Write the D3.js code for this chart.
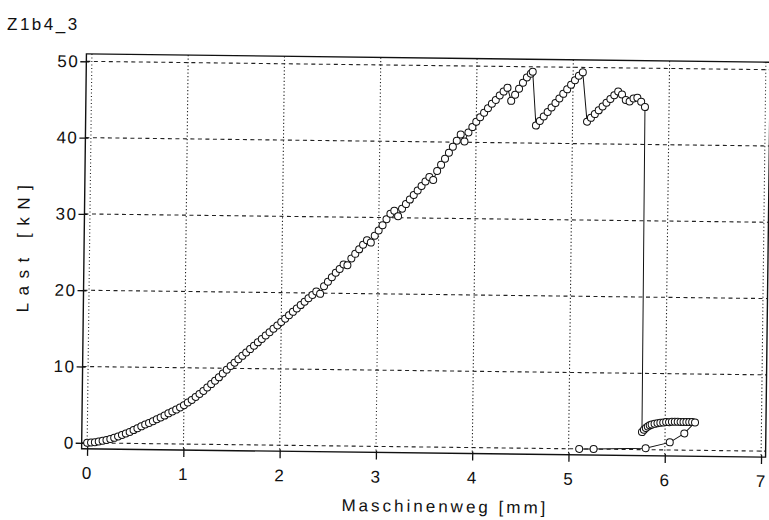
<!DOCTYPE html>
<html>
<head>
<meta charset="utf-8">
<script src="https://cdn.jsdelivr.net/npm/d3@7"></script>
<style>
  body { margin: 0; background: #fff; }
  text { font-family: "Liberation Sans", Arial, sans-serif; fill: #111; }
</style>
</head>
<body>
<div id="chart"></div>
<script>
// Maschinenweg [mm] / Last [kN]
var wegMm = [
  0.00, 0.04, 0.08, 0.12, 0.16, 0.20, 0.24, 0.28, 0.32, 0.36, 0.40, 0.44, 0.48, 0.52, 0.56, 0.60,
  0.64, 0.68, 0.72, 0.76, 0.80, 0.84, 0.88, 0.92, 0.96, 1.00, 1.04, 1.08, 1.12, 1.16, 1.20, 1.24,
  1.28, 1.32, 1.36, 1.40, 1.44, 1.48, 1.52, 1.56, 1.60, 1.64, 1.68, 1.72, 1.76, 1.80, 1.84, 1.88,
  1.92, 1.96, 2.00, 2.04, 2.08, 2.12, 2.16, 2.20, 2.24, 2.28, 2.32,
  2.36, 2.40, 2.44, 2.48, 2.52, 2.56, 2.60, 2.64, 2.68, 2.72, 2.76, 2.80, 2.84, 2.88, 2.92, 2.96,
  3.00, 3.04, 3.08, 3.12, 3.16, 3.20, 3.24, 3.28, 3.32, 3.36, 3.40, 3.44, 3.48, 3.52, 3.56, 3.60,
  3.64, 3.68, 3.72, 3.76, 3.80, 3.84, 3.88, 3.92, 3.96, 4.00, 4.04, 4.08, 4.12, 4.16, 4.20, 4.24,
  4.28, 4.32, 4.36, 4.40, 4.44, 4.48, 4.52, 4.56, 4.58, 4.62,
  4.66, 4.70, 4.74, 4.78, 4.82, 4.86, 4.90, 4.94, 4.98, 5.02, 5.06, 5.10, 5.15,
  5.19, 5.23, 5.27, 5.31, 5.35, 5.39, 5.43, 5.47, 5.51, 5.55, 5.59, 5.63, 5.67, 5.71, 5.75,
  5.76, 5.78, 5.80, 5.82, 5.84, 5.86, 5.89, 5.92, 5.95, 5.98, 6.01, 6.04, 6.07, 6.10, 6.13, 6.16,
  6.19, 6.22, 6.25, 6.28, 6.31,
  6.20, 6.05, 5.80, 5.26, 5.11
];
var lastKn = [
  0.00, 0.05, 0.10, 0.20, 0.30, 0.40, 0.55, 0.70, 0.90, 1.10, 1.30, 1.50, 1.75, 2.00, 2.25, 2.50,
  2.70, 2.95, 3.20, 3.45, 3.70, 4.00, 4.25, 4.50, 4.80, 5.10, 5.45, 5.80, 6.20, 6.60, 7.00, 7.45,
  7.90, 8.35, 8.80, 9.30, 9.80, 10.3, 10.75, 11.2, 11.65, 12.1, 12.55, 13.0, 13.45, 13.9, 14.35, 14.8,
  15.25, 15.7, 16.15, 16.6, 17.05, 17.5, 17.95, 18.4, 18.85, 19.3, 19.75,
  20.2, 19.9, 20.9, 21.5, 22.1, 22.7, 23.2, 23.8, 23.7, 24.6, 25.2, 25.8, 26.4, 27.0, 26.7, 27.6,
  28.3, 29.0, 29.8, 30.5, 30.9, 30.2, 31.2, 31.8, 32.4, 33.0, 33.6, 34.2, 34.8, 35.4, 35.0, 36.2,
  37.0, 37.8, 38.6, 39.4, 40.2, 41.0, 40.1, 41.3, 42.0, 42.7, 43.3, 43.9, 44.5, 45.1, 45.6, 46.2,
  46.7, 47.2, 45.5, 46.3, 47.1, 47.9, 48.6, 49.1, 49.35, 42.3,
  42.9, 43.5, 44.1, 44.7, 45.3, 45.9, 46.5, 47.1, 47.7, 48.3, 48.9, 49.35, 42.9,
  43.4, 43.9, 44.4, 44.9, 45.4, 45.9, 46.4, 46.9, 46.5, 45.8, 45.6, 46.0, 46.1, 45.6, 44.9,
  2.30, 2.60, 2.85, 3.05, 3.20, 3.30, 3.40, 3.50, 3.55, 3.60, 3.65, 3.65, 3.70, 3.70, 3.70, 3.70,
  3.70, 3.70, 3.70, 3.70, 3.65,
  2.20, 1.00, 0.20, 0.00, 0.00
];
var xTicks = [0, 1, 2, 3, 4, 5, 6, 7];
var yTicks = [0, 10, 20, 30, 40, 50];
var chartTitle = "Z1b4_3";
var xTitle = "Maschinenweg [mm]";
var yTitle = "Last [kN]";

var width = 769;
var height = 520;
var frame = { left: 84, right: 768, top: 58, bottom: 453 };

var data = wegMm.map(function (w, i) { return { weg: w, last: lastKn[i] }; });

/* Scale */
var xScale = d3.scaleLinear().domain([0, 7]).range([89.5, 763.5]);
var yScale = d3.scaleLinear().domain([0, 50]).range([447, 65.5]);

var svg = d3.select("#chart").append("svg")
    .attr("width", width)
    .attr("height", height);

svg.append("text")
    .attr("x", 7)
    .attr("y", 30)
    .style("font-size", "17px")
    .style("letter-spacing", "2.5px")
    .text(chartTitle);

// the scanned plot sits slightly skewed
var g = svg.append("g")
    .attr("transform", "rotate(0.7, 426, 255)");

/* Grid */
g.append("g").selectAll("line")
    .data(yTicks).enter()
    .append("line")
    .attr("x1", frame.left)
    .attr("x2", frame.right)
    .attr("y1", d => yScale(d))
    .attr("y2", d => yScale(d))
    .attr("stroke", "#222")
    .attr("stroke-width", 1.1)
    .attr("stroke-dasharray", "4,3.5");

g.append("g").selectAll("line")
    .data(xTicks).enter()
    .append("line")
    .attr("x1", d => xScale(d))
    .attr("x2", d => xScale(d))
    .attr("y1", frame.top)
    .attr("y2", frame.bottom)
    .attr("stroke", "#222")
    .attr("stroke-width", 1.1)
    .attr("stroke-dasharray", "1.2,2.3");

/* Frame */
g.append("rect")
    .attr("x", frame.left)
    .attr("y", frame.top)
    .attr("width", frame.right - frame.left)
    .attr("height", frame.bottom - frame.top)
    .attr("fill", "none")
    .attr("stroke", "#111")
    .attr("stroke-width", 1.4);

/* Axes */
var xAxis = d3.axisBottom(xScale).tickValues(xTicks).tickSize(7).tickPadding(11).tickFormat(d3.format("d"));
var yAxis = d3.axisLeft(yScale).tickValues(yTicks).tickSize(6).tickPadding(1).tickFormat(d3.format("d"));

var gx = g.append("g")
    .attr("transform", `translate(0, ${frame.bottom})`)
    .call(xAxis);
var gy = g.append("g")
    .attr("transform", `translate(${frame.left}, 0)`)
    .call(yAxis);

[gx, gy].forEach(function (ax) {
    ax.select(".domain").remove();
    ax.selectAll("line").attr("stroke", "#111").attr("stroke-width", 1.3);
    ax.selectAll("text")
        .style("font-size", "17px")
        .style("letter-spacing", "1.5px")
        .attr("fill", "#111");
});
gx.selectAll("line").attr("y1", -2);
gy.selectAll("line").attr("x1", 3);

g.append("text")
    .attr("x", 448)
    .attr("y", 512)
    .attr("text-anchor", "middle")
    .style("font-size", "17px")
    .style("letter-spacing", "3px")
    .text(xTitle);

g.append("text")
    .attr("transform", "translate(29, 250) rotate(-90)")
    .attr("text-anchor", "middle")
    .style("font-size", "17px")
    .style("letter-spacing", "7.5px")
    .text(yTitle);

/* Series */
var line = d3.line()
    .x(d => xScale(d.weg))
    .y(d => yScale(d.last));

g.append("path")
    .datum(data)
    .attr("d", line)
    .attr("fill", "none")
    .attr("stroke", "#111")
    .attr("stroke-width", 1);

g.append("g").selectAll("circle")
    .data(data).enter()
    .append("circle")
    .attr("cx", d => xScale(d.weg))
    .attr("cy", d => yScale(d.last))
    .attr("r", 3.5)
    .attr("fill", "#fff")
    .attr("stroke", "#111")
    .attr("stroke-width", 1);
</script>
</body>
</html>
